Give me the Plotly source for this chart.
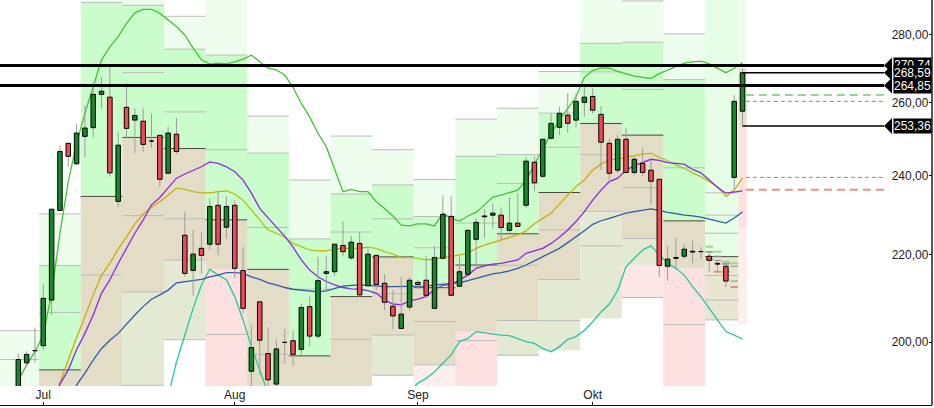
import math
import pandas as pd
import plotly.graph_objects as go

# ---------------- data ----------------
dates = [d.strftime("%Y-%m-%d") for d in pd.bdate_range("2024-06-26", "2024-10-25")]

opens = [189.0,195.5,198.0,199.2,209.4,231.0,248.6,243.1,250.5,252.9,
         262.3,261.5,233.3,258.6,255.0,254.7,249.2,250.8,240.6,251.1,
         224.8,216.3,221.6,222.6,232.3,226.8,232.3,216.3,193.7,209.0,
         197.5,191.0,199.8,200.3,198.4,207.9,201.3,215.6,216.0,222.3,
         219.3,222.8,212.7,219.9,213.3,208.0,203.0,207.8,213.5,214.0,
         207.5,219.2,229.5,212.6,215.4,223.8,229.6,229.8,229.8,226.0,
         227.8,232.3,243.5,239.8,250.0,253.0,256.4,255.0,260.0,261.7,
         256.6,248.6,241.4,249.7,240.8,243.2,241.4,239.0,217.3,219.2,
         219.7,220.9,220.7,219.7,218.0,217.3,239.5,257.5]
highs = [197.5,198.0,203.2,213.1,231.4,248.1,248.7,253.9,259.2,265.0,
         267.4,270.74,251.7,265.5,258.3,258.3,256.9,250.9,253.2,255.6,
         230.6,226.1,225.6,234.1,235.8,234.7,233.6,222.0,203.8,209.0,
         203.2,200.6,202.8,202.5,208.5,210.2,219.6,219.8,222.7,228.2,
         224.6,225.5,221.6,220.0,215.5,211.7,214.8,214.8,214.1,219.8,
         222.2,234.9,234.6,219.6,226.4,229.0,231.3,232.8,231.8,234.3,
         235.4,244.8,245.0,249.8,256.9,258.8,262.6,262.6,264.85,264.0,
         259.0,250.0,250.8,252.9,245.0,247.3,244.1,239.1,222.2,224.1,
         222.7,223.5,222.0,220.8,218.4,218.0,262.1,269.8]
lows = [188.0,194.7,195.5,198.4,206.0,230.9,242.2,242.9,244.8,250.1,
        258.3,239.7,231.8,250.0,245.9,246.3,247.4,237.1,240.5,245.7,
        214.8,210.4,215.6,221.2,220.0,224.0,214.4,206.4,182.1,192.9,
        190.0,190.2,195.4,194.8,196.8,199.0,200.8,211.6,215.0,219.6,
        218.8,210.2,212.5,211.7,207.1,202.8,202.9,207.0,212.0,210.3,
        207.4,219.1,210.4,212.4,215.3,216.8,224.0,226.4,223.6,225.3,
        226.9,231.5,236.0,239.3,249.5,250.9,251.5,253.0,256.0,256.9,
        241.4,238.0,240.6,240.6,240.1,239.7,232.6,214.7,213.9,216.4,
        219.0,218.0,219.0,216.0,216.0,212.4,236.3,253.36]
closes = [196.2,197.3,198.1,209.8,231.3,246.4,245.1,251.4,252.8,262.3,
          263.2,240.7,248.1,252.7,256.3,248.3,249.1,239.0,251.4,246.4,
          215.6,220.2,219.9,232.0,222.6,232.0,216.8,207.5,198.8,200.4,
          191.9,198.5,199.9,197.3,207.7,201.3,213.9,216.0,222.6,220.8,
          223.1,210.6,220.2,213.0,208.9,205.8,206.2,214.0,213.0,210.5,
          219.4,230.0,210.5,216.0,226.0,228.0,229.4,230.3,226.7,227.8,
          227.0,243.8,238.1,249.7,254.1,256.9,254.1,260.3,261.5,257.8,
          248.9,240.6,249.7,240.8,244.3,240.8,238.5,217.5,219.0,219.4,
          221.4,220.7,220.8,218.7,217.8,213.8,260.3,268.59]

bb_upper = [191.8,195.0,197.9,201.5,211.0,225.3,238.4,248.6,256.9,264.5,
            272.4,276.3,279.4,283.5,286.8,287.9,287.9,286.6,284.5,282.5,
            279.9,275.9,272.4,271.1,271.4,271.2,271.8,272.6,273.8,271.8,
            269.9,269.4,267.9,264.3,259.7,255.9,251.3,247.7,241.9,235.8,
            236.4,235.8,235.8,233.2,231.5,229.6,227.3,227.1,227.6,227.6,
            227.1,230.3,229.0,228.3,229.6,230.5,232.4,234.4,234.9,235.5,
            236.2,238.8,242.8,247.2,251.3,255.0,258.3,261.6,267.2,269.2,
            270.0,269.9,269.0,268.2,267.6,267.2,266.9,268.3,269.4,270.4,
            271.4,271.8,272.0,271.2,269.9,268.6,269.9,271.5]
bb_lower = [None]*18 + [188.5,
            195.7,201.5,207.5,212.9,216.6,215.2,214.1,210.2,204.9,199.0,194.0,
            189.1] + [None]*16 + [189.4,
            191.2,192.2,193.6,195.4,197.2,200.1,200.8,202.3,202.0,201.7,
            201.5,201.4,200.8,200.1,199.7,198.6,197.9,199.0,200.6,201.2,
            202.6,204.5,206.7,208.5,211.7,217.2,219.2,221.2,222.2,220.2,
            218.0,216.8,215.2,212.5,210.2,207.5,204.9,202.3,201.5,200.6]
ma_purple = [None,None,None,None,186.0,191.0,194.0,198.3,201.9,206.0,
             211.0,214.1,218.0,221.6,225.3,228.6,232.4,234.3,236.7,239.3,
             240.4,241.3,242.3,243.6,243.2,242.3,241.0,238.8,235.4,231.5,
             229.0,226.8,224.6,221.9,218.8,216.4,214.8,213.7,212.9,212.3,
             212.0,211.9,211.6,211.0,209.4,208.5,208.3,209.2,209.6,210.2,
             211.9,212.8,213.0,214.1,215.2,216.8,217.4,217.8,218.0,218.4,
             218.8,220.4,221.0,221.6,222.8,224.3,226.1,228.2,230.7,233.6,
             236.2,238.4,239.3,241.4,242.6,243.4,244.3,244.0,243.4,243.2,
             243.0,241.6,240.7,238.8,236.9,235.4,235.7,236.0]
ma_yellow = [None,None,None,None,185.5,191.2,196.1,201.0,205.6,210.6,
             215.2,218.0,221.4,224.4,227.6,230.1,231.8,233.2,234.9,236.7,
             236.4,235.8,235.5,235.5,235.8,236.0,235.2,233.6,231.1,228.6,
             226.1,225.3,224.3,222.8,222.0,221.2,221.0,221.0,221.4,221.6,
             221.6,221.6,221.9,221.6,220.8,220.2,219.4,219.4,219.2,218.8,
             219.0,219.4,219.6,220.0,220.4,221.6,222.4,223.0,223.6,224.3,
             224.9,225.9,227.6,229.0,230.3,232.6,234.9,237.1,238.8,241.4,
             243.0,244.1,244.4,244.8,245.3,245.7,245.9,244.8,243.9,242.8,
             241.9,240.7,239.7,238.4,237.1,234.5,236.2,239.3]
ma_blue = [None,None,None,None,None,None,186.0,190.8,193.3,196.1,
           198.6,200.4,201.9,204.0,206.0,207.9,209.6,210.6,211.7,213.4,
           213.7,213.9,214.2,214.8,215.2,215.8,215.8,215.6,214.8,214.2,
           213.4,212.9,212.3,211.9,211.7,211.6,211.3,211.5,212.1,212.6,
           212.8,212.9,212.8,212.6,212.5,212.5,212.5,212.5,212.5,212.6,
           212.9,213.1,213.3,213.4,213.9,214.4,215.0,215.5,215.8,216.2,
           216.8,217.6,218.6,219.6,220.5,221.6,223.0,224.4,225.9,227.5,
           228.4,229.0,229.6,230.3,230.7,231.1,231.4,231.0,230.5,230.2,
           229.8,229.6,229.3,228.8,228.3,227.8,229.1,230.6]

month_starts = ["2024-07-01", "2024-08-01", "2024-09-02", "2024-10-01"]
month_labels = ["Jul", "Aug", "Sep", "Okt"]
y_ticks = [200, 220, 240, 260, 280]

resistance_lines = [270.74, 264.85]
tag_values = [270.74, 264.85, 268.59, 253.36]
last_lines = [268.59, 253.36]

prev_week_hlc = (204.9, 181.4, 195.7)      # week of 24 Jun (mostly before the window)
first_col_levels = [202.5, 196.2]
zone_overrides = [  # (monday, top, bottom, colour)
    ("2024-07-29", 216.6, 185.0, "pink"),
    ("2024-09-02", 195.1, 185.0, "palepink"),
    ("2024-09-09", 202.3, 185.0, "pink"),
    ("2024-09-23", 204.8, 198.2, "olive"),
    ("2024-09-30", 222.2, 205.2, "olive"),
    ("2024-10-07", 217.7, 209.9, "palepink2"),
    ("2024-10-14", 216.8, 185.0, "pink"),
]
muted_weeks = ["2024-10-21"]
last_day_zones = [(300.0, 270.0, "pale"), (270.0, 253.4, "beige2"),
                  (253.4, 226.6, "pink"), (226.6, 204.0, "palepink")]

zone_colors = {"pale": "#eefdee", "green": "#cbfccb", "beige": "#e3dcc6",
               "olive": "#e4e9d4", "pink": "#fde0e0", "palepink": "#fdeeee",
               "palepink2": "#fce6e6", "mutedgreen": "#e6fde6",
               "mutedbeige": "#e8e6d3", "beige2": "#e4e2cc"}

# ---------------- helpers ----------------
n = len(dates)
X = list(range(n))
X_LEFT, X_RIGHT = -2.2, 109.76
X_END = 104.0          # where the right-hand price tags start
X_PER_PX = 1 / 8.324
Y_PER_PX = 1 / 913.3   # natural-log units per pixel
Y_BOT, Y_TOP = 190.60, 290.84
HW = 0.27              # half body width

fills = {}      # colour -> [xs, ys]
fill_order = []
segs_below = {}  # (colour, width, dash) -> [xs, ys]
segs_above = {}


def rect(x0, x1, top, bot, color):
    top = min(top, 330.0)
    bot = max(bot, 170.0)
    if top <= bot:
        return
    if color not in fills:
        fills[color] = [[], []]
        fill_order.append(color)
    xs, ys = fills[color]
    xs += [x0, x1, x1, x0, x0, None]
    ys += [top, top, bot, bot, top, None]


def hline(x0, x1, v, color, width, dash="solid", layer="below"):
    if v <= 0:
        return
    store = segs_below if layer == "below" else segs_above
    key = (color, width, dash)
    if key not in store:
        store[key] = [[], []]
    xs, ys = store[key]
    xs += [x0, x1, None]
    ys += [v, v, None]


# weekly groups
weeks = []
for i, d in enumerate(dates):
    wk = pd.Timestamp(d).isocalendar()[1]
    if not weeks or weeks[-1][0] != wk:
        weeks.append([wk, []])
    weeks[-1][1].append(i)

GRID = "#bcbcbc"
PIV = "#4a4a3e"
for k, (wk, idxs) in enumerate(weeks):
    x0 = idxs[0] - 0.5
    x1 = idxs[-1] + 0.5
    first = pd.Timestamp(dates[idxs[0]])
    monday = (first - pd.Timedelta(days=first.weekday())).strftime("%Y-%m-%d")
    if k == 0:
        x0 = -3
        rect(x0, x1, first_col_levels[0], 170, zone_colors["pale"])
        for v in first_col_levels:
            hline(x0, x1, v, GRID, 1)
        continue
    if k == 1:
        H, L, C = prev_week_hlc
    else:
        prev = weeks[k - 1][1]
        H = max(highs[i] for i in prev)
        L = min(lows[i] for i in prev)
        C = closes[prev[-1]]
    P = (H + L + C) / 3
    R1, S1 = 2 * P - L, 2 * P - H
    R2, S2 = P + (H - L), P - (H - L)
    R3, S3 = H + 2 * (P - L), L - 2 * (H - P)
    if k == len(weeks) - 1:
        x1 = idxs[-1] - 0.5
    if monday in muted_weeks:
        bands = [(330, P, "mutedgreen"), (P, S3, "mutedbeige")]
    else:
        bands = [(R3, R2, "pale"), (R2, P, "green"), (P, S2, "beige"), (S2, S3, "olive")]
    for t, b, c in bands:
        rect(x0, x1, t, b, zone_colors[c])
    for mon, t, b, c in zone_overrides:
        if mon == monday:
            rect(x0, x1, t, b, zone_colors[c])
    for v in (R3, R2, R1, S1, S2, S3):
        hline(x0, x1, v, GRID, 1)
    hline(x0, x1, P, PIV, 1)

# last (current) day strip
for t, b, c in last_day_zones:
    rect(n - 1.5, n - 0.5, t, b, zone_colors[c])

# previous-day markers for the last days
GREEN_D, RED_D, GRAY_D = "#93d893", "#d8958c", "#8e8e8e"
for d in range(n - 5, n - 1):
    p = d - 1
    hline(d - 0.45, d + 0.45, highs[p], GREEN_D, 2)
    hline(d - 0.45, d + 0.45, lows[p], RED_D, 2)
    hline(d - 0.45, d + 0.45, closes[p], GRAY_D, 1)
    hline(d - 0.45, d + 0.45, opens[p], GRAY_D, 1)
p = n - 2
hline(n - 0.6, X_END, highs[p], "#93d893", 2, "8px,5px", "above")
hline(n - 0.6, X_END, closes[p], "#8a8a8a", 1, "4px,3px", "above")
hline(n - 0.6, X_END, opens[p], "#8a8a8a", 1, "4px,3px", "above")
hline(n - 0.6, X_END, lows[p], "#e39292", 2, "8px,5px", "above")

# key horizontal lines
for v in resistance_lines:
    hline(-3, X_END, v, "black", 3, layer="above")
for v in last_lines:
    hline(n - 1, X_END, v, "black", 1.5, layer="above")

# ---------------- traces ----------------
fig = go.Figure()

for c in fill_order:
    xs, ys = fills[c]
    fig.add_trace(go.Scatter(x=xs, y=ys, mode="lines", fill="toself", fillcolor=c,
                             line=dict(width=0, color=c), hoverinfo="skip",
                             showlegend=False))


def add_segs(store):
    for (c, w, dsh), (xs, ys) in store.items():
        fig.add_trace(go.Scatter(x=xs, y=ys, mode="lines",
                                 line=dict(color=c, width=w, dash=dsh),
                                 hoverinfo="skip", showlegend=False))


add_segs(segs_below)


def add_line(y, color, width=1.3):
    fig.add_trace(go.Scatter(x=X, y=y, mode="lines", line=dict(color=color, width=width),
                             connectgaps=False, hoverinfo="skip", showlegend=False))


def add_sloped_line(y, up_color, down_color, width=1.3):
    # colour each segment by its direction
    for want_up, col in ((True, up_color), (False, down_color)):
        xs, ys = [], []
        for i in range(n - 1):
            a, b = y[i], y[i + 1]
            if a is None or b is None:
                continue
            if (b >= a) == want_up:
                xs += [i, i + 1, None]
                ys += [a, b, None]
        fig.add_trace(go.Scatter(x=xs, y=ys, mode="lines",
                                 line=dict(color=col, width=width),
                                 hoverinfo="skip", showlegend=False))


add_line(bb_upper, "#45c236")
add_line(bb_lower, "#25c79c")
add_line(ma_blue, "#2f5ca6")
add_sloped_line(ma_yellow, "#c9ad06", "#adc514")
add_line(ma_purple, "#8a2be2")

wx, wy = [], []
for i in X:
    wx += [i, i, None]
    wy += [lows[i], highs[i], None]
fig.add_trace(go.Scatter(x=wx, y=wy, mode="lines", line=dict(color="#9d9d9d", width=1),
                         hoverinfo="skip", showlegend=False))


def bodies(idx, color):
    xs, ys = [], []
    for i in idx:
        lo, hi = min(opens[i], closes[i]), max(opens[i], closes[i])
        if hi - lo < 0.12:
            hi = lo + 0.12
        xs += [i - HW, i + HW, i + HW, i - HW, i - HW, None]
        ys += [hi, hi, lo, lo, hi, None]
    fig.add_trace(go.Scatter(x=xs, y=ys, mode="lines", fill="toself", fillcolor=color,
                             line=dict(color="black", width=1), hoverinfo="skip",
                             showlegend=False))


bodies([i for i in X if closes[i] >= opens[i]], "#14892c")
bodies([i for i in X if closes[i] < opens[i]], "#ee4a55")

add_segs(segs_above)

# price tag arrow tips
tx, ty = [], []
for v in tag_values:
    xb = X_END + 8 * X_PER_PX
    tx += [xb, X_END, xb, xb, None]
    ty += [v * math.exp(8 * Y_PER_PX), v, v * math.exp(-8 * Y_PER_PX),
           v * math.exp(8 * Y_PER_PX), None]
fig.add_trace(go.Scatter(x=tx, y=ty, mode="lines", fill="toself", fillcolor="black",
                         line=dict(color="black", width=0), hoverinfo="skip",
                         showlegend=False))

annotations = []
for v in tag_values:
    annotations.append(dict(xref="paper", x=1.0, xanchor="right", yref="y",
                            y=math.log10(v), yanchor="middle",
                            text=f"{v:.2f}".replace(".", ","),
                            showarrow=False, bgcolor="black", borderpad=0,
                            font=dict(color="white", size=12,
                                      family="Liberation Sans, Arial, sans-serif")))

tick_idx = [dates.index(d) for d in month_starts]

fig.update_layout(width=934, height=408, margin=dict(l=0, r=2, t=0, b=3),
                  paper_bgcolor="white", plot_bgcolor="white", showlegend=False,
                  separators=",.", annotations=annotations,
                  shapes=[dict(type="line", xref="paper", yref="paper", x0=1, x1=1,
                               y0=0, y1=1, line=dict(color="#111", width=1.4))],
                  font=dict(family="Liberation Sans, Arial, sans-serif", size=12, color="#222"))
fig.update_xaxes(range=[X_LEFT, X_RIGHT], domain=[0, 1], anchor="free", position=0,
                 showgrid=False, zeroline=False, showline=True, linecolor="#111",
                 linewidth=1.4, ticks="inside", ticklen=3, tickcolor="#111",
                 tickvals=tick_idx, ticktext=month_labels, ticklabelposition="inside",
                 tickfont=dict(size=12, color="#222"))
fig.update_yaxes(type="log", range=[math.log10(Y_BOT), math.log10(Y_TOP)],
                 domain=[19 / 405, 1],
                 side="right", anchor="x", showgrid=False, zeroline=False, showline=False,
                 ticks="inside", ticklen=3, tickcolor="#111", tickvals=y_ticks,
                 tickformat=".2f", ticklabelposition="inside",
                 tickfont=dict(size=12, color="#222"))

fig.write_html("out.html", post_script="document.body.style.margin='0px';",
               config={"displayModeBar": False})
